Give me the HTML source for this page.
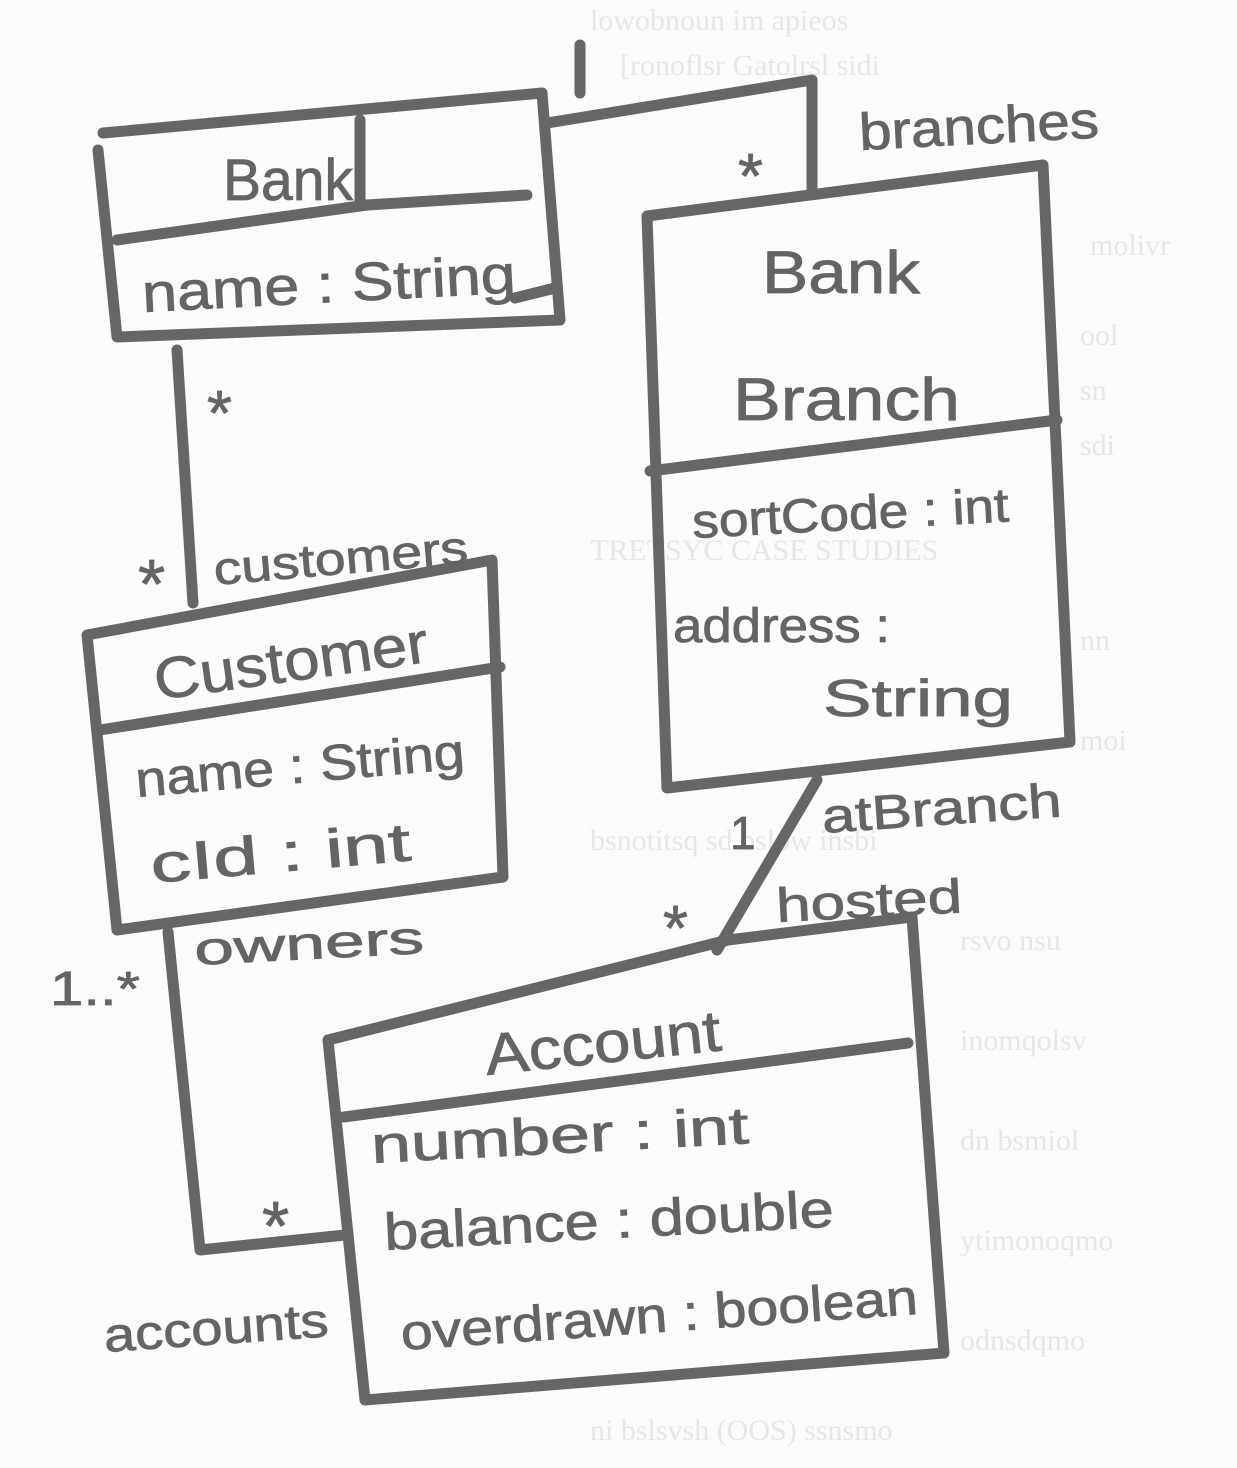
<!DOCTYPE html>
<html><head><meta charset="utf-8"><style>
html,body{margin:0;padding:0;background:#fbfbfa;}
svg{display:block}
.t{font-family:"Liberation Sans",sans-serif;fill:#646464;stroke:#646464;stroke-width:0.8px;}
.b{font-family:"Liberation Serif",serif;fill:#e6e6e4;font-size:30px;}
</style></head><body>
<svg width="1237" height="1468" viewBox="0 0 1237 1468" xmlns="http://www.w3.org/2000/svg">
<g class="b">
<text x="590" y="30">lowobnoun im apieos</text>
<text x="620" y="75">[ronoflsr    Gatolrsl sidi</text>
<text x="1090" y="255">molivr</text>
<text x="1080" y="345">ool</text>
<text x="1080" y="400">sn</text>
<text x="1080" y="455">sdi</text>
<text x="590" y="560">TRETSYC CASE STUDIES</text>
<text x="1080" y="650">nn</text>
<text x="1080" y="750">moi</text>
<text x="590" y="850">bsnotitsq sd bslow insbi</text>
<text x="960" y="950">rsvo nsu</text>
<text x="960" y="1050">inomqolsv</text>
<text x="960" y="1150">dn  bsmiol</text>
<text x="960" y="1250">ytimonoqmo</text>
<text x="960" y="1350">odnsdqmo</text>
<text x="590" y="1440">ni bslsvsh  (OOS) ssnsmo</text>
</g>
<g fill="none" stroke="#666" stroke-width="11" stroke-linecap="round" stroke-linejoin="round">
<!-- Bank -->
<path d="M103 133 L542 93"/>
<path d="M98 150 L117 337 L560 320 L542 93"/>
<path d="M117 240 L367 205 L527 195"/>
<path d="M360 120 L360 203"/>
<path d="M515 298 L555 288"/>
<!-- Bank-branch assoc -->
<path d="M547 123 L812 80 L812 190"/>
<path d="M580 45 L580 93"/>
<!-- BankBranch -->
<path d="M647 216 L1043 165 L1070 742 L667 788 Z"/>
<path d="M650 471 L1057 420"/>
<!-- Bank-Customer -->
<path d="M177 350 L193 603"/>
<!-- Customer -->
<path d="M87 635 L492 560 L503 877 L117 930 Z"/>
<path d="M100 730 L500 667"/>
<!-- Branch-Account -->
<path d="M817 780 L717 950"/>
<!-- Account -->
<path d="M328 1040 L728 940 L912 917 L944 1353 L365 1400 Z"/>
<path d="M344 1117 L908 1043"/>
<!-- Customer-Account -->
<path d="M168 932 L200 1250 L345 1235"/>
</g>
<g class="t">
<text x="223" y="200" font-size="58" textLength="130" lengthAdjust="spacingAndGlyphs">Bank</text>
<text x="143" y="312" font-size="54" textLength="374" lengthAdjust="spacingAndGlyphs" transform="rotate(-3 143 312)">name : String</text>
<text x="762" y="293" font-size="60" textLength="158" lengthAdjust="spacingAndGlyphs">Bank</text>
<text x="733" y="420" font-size="60" textLength="227" lengthAdjust="spacingAndGlyphs">Branch</text>
<text x="693" y="538" font-size="48" textLength="317" lengthAdjust="spacingAndGlyphs" transform="rotate(-3 693 538)">sortCode : int</text>
<text x="673" y="642" font-size="48" textLength="217" lengthAdjust="spacingAndGlyphs">address :</text>
<text x="823" y="716" font-size="52" textLength="190" lengthAdjust="spacingAndGlyphs">String</text>
<text x="157" y="700" font-size="58" textLength="276" lengthAdjust="spacingAndGlyphs" transform="rotate(-8 157 700)">Customer</text>
<text x="137" y="797" font-size="50" textLength="330" lengthAdjust="spacingAndGlyphs" transform="rotate(-5 137 797)">name : String</text>
<text x="152" y="883" font-size="54" textLength="261" lengthAdjust="spacingAndGlyphs" transform="rotate(-5 152 883)">cId : int</text>
<text x="487" y="1075" font-size="58" textLength="237" lengthAdjust="spacingAndGlyphs" transform="rotate(-6 487 1075)">Account</text>
<text x="372" y="1163" font-size="52" textLength="378" lengthAdjust="spacingAndGlyphs" transform="rotate(-3 372 1163)">number : int</text>
<text x="385" y="1250" font-size="52" textLength="450" lengthAdjust="spacingAndGlyphs" transform="rotate(-3 385 1250)">balance : double</text>
<text x="402" y="1350" font-size="50" textLength="518" lengthAdjust="spacingAndGlyphs" transform="rotate(-4 402 1350)">overdrawn : boolean</text>
<text x="738" y="198" font-size="64">*</text>
<text x="860" y="150" font-size="52" textLength="240" lengthAdjust="spacingAndGlyphs" transform="rotate(-3 860 150)">branches</text>
<text x="207" y="435" font-size="64">*</text>
<text x="138" y="608" font-size="70">*</text>
<text x="215" y="585" font-size="46" textLength="255" lengthAdjust="spacingAndGlyphs" transform="rotate(-5 215 585)">customers</text>
<text x="730" y="849" font-size="46">1</text>
<text x="823" y="833" font-size="48" textLength="240" lengthAdjust="spacingAndGlyphs" transform="rotate(-4 823 833)">atBranch</text>
<text x="663" y="950" font-size="64">*</text>
<text x="777" y="922" font-size="48" textLength="186" lengthAdjust="spacingAndGlyphs" transform="rotate(-3 777 922)">hosted</text>
<text x="50" y="1005" font-size="48" textLength="90" lengthAdjust="spacingAndGlyphs">1..*</text>
<text x="195" y="965" font-size="46" textLength="230" lengthAdjust="spacingAndGlyphs" transform="rotate(-3 195 965)">owners</text>
<text x="262" y="1250" font-size="70">*</text>
<text x="105" y="1352" font-size="48" textLength="225" lengthAdjust="spacingAndGlyphs" transform="rotate(-4 105 1352)">accounts</text>
</g>
</svg>
</body></html>
